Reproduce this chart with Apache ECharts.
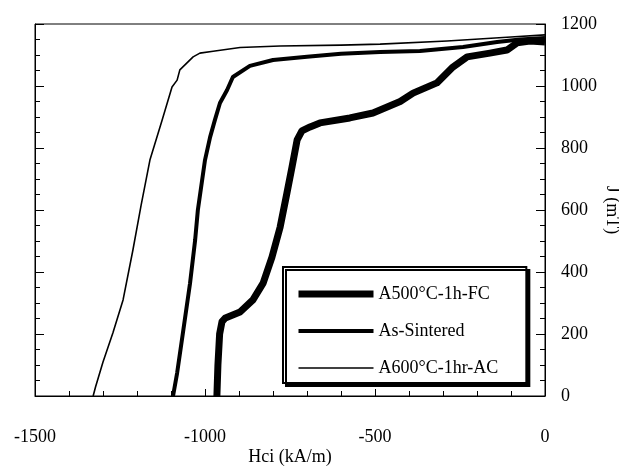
<!DOCTYPE html>
<html>
<head>
<meta charset="utf-8">
<script src="https://cdn.jsdelivr.net/npm/echarts@6/dist/echarts.min.js"></script>
<style>html,body{margin:0;padding:0;background:#fff}#c{width:619px;height:466px}</style>
</head>
<body>
<div id="c"></div>
<script>
const seriesNames = ['A500°C-1h-FC', 'As-Sintered', 'A600°C-1hr-AC'];
const xTitle = 'Hci (kA/m)';
const yTitle = 'J (mT)';
// [H (kA/m), J (mT)]
const a500 = [[-965,0],[-962,100],[-957,200],[-950,240],[-940,252],[-897,271],[-859,310],[-829,364],[-803,448],[-779,545],[-759,655],[-744,739],[-729,826],[-715,855],[-691,868],[-662,881],[-574,897],[-506,913],[-426,950],[-388,977],[-318,1010],[-271,1061],[-229,1094],[-162,1106],[-112,1116],[-82,1139],[-44,1145],[0,1142]];
const asSintered = [[-1094,0],[-1082,74],[-1065,203],[-1044,364],[-1029,503],[-1021,600],[-1000,761],[-985,835],[-971,890],[-956,945],[-935,987],[-918,1029],[-868,1065],[-800,1084],[-700,1094],[-600,1104],[-485,1110],[-368,1113],[-241,1126],[-141,1142],[-74,1150],[0,1155]];
const a600 = [[-1329,0],[-1322,29],[-1300,110],[-1271,203],[-1241,310],[-1212,471],[-1188,615],[-1162,761],[-1126,890],[-1097,997],[-1082,1019],[-1074,1052],[-1035,1094],[-1015,1106],[-976,1112],[-897,1124],[-779,1129],[-600,1132],[-485,1135],[-288,1145],[-100,1158],[0,1165]];
const xMin = -1500, xMax = 0, xStep = 500;
const yMin = 0, yMax = 1200, yStep = 200;
const widths = [7, 4, 1.6];

const font = 'Liberation Serif';
const chart = echarts.init(document.getElementById('c'));
const tickStyle = {color:'#000', width:1};
chart.setOption({
  animation:false,
  backgroundColor:'#fff',
  grid:{left:35, right:74, top:24, bottom:70, show:true, borderColor:'#000', borderWidth:1, backgroundColor:'transparent', containLabel:false, outerBoundsMode:'none'},
  legend:{
    data:seriesNames.map((n,i)=>({name:n, lineStyle:{width:widths[i], color:'#000'}})),
    orient:'vertical', left:283, top:267,
    itemWidth:75, itemHeight:14, itemGap:19,
    padding:[18,28,6,12],
    backgroundColor:'#fff', borderColor:'#000', borderWidth:2,
    shadowColor:'#000', shadowBlur:0, shadowOffsetX:3, shadowOffsetY:3,
    itemStyle:{opacity:0},
    textStyle:{fontFamily:font, fontSize:18, color:'#000'}
  },
  xAxis:{
    type:'value', min:xMin, max:xMax, interval:xStep,
    name:xTitle, nameLocation:'middle', nameGap:52, nameMoveOverlap:false,
    nameTextStyle:{fontFamily:font, fontSize:18, color:'#000'},
    axisLine:{lineStyle:{color:'#000'}},
    axisTick:{inside:true, length:7, lineStyle:tickStyle},
    minorTick:{show:true, splitNumber:5, length:5, lineStyle:tickStyle},
    axisLabel:{margin:32, fontFamily:font, fontSize:18, color:'#000', formatter:v=>String(v)},
    splitLine:{show:false}
  },
  yAxis:[{
    type:'value', position:'right', min:yMin, max:yMax, interval:yStep,
    name:yTitle, nameLocation:'middle', nameRotate:-90, nameGap:58, nameMoveOverlap:false,
    nameTextStyle:{fontFamily:font, fontSize:18, color:'#000'},
    axisLine:{show:true, lineStyle:{color:'#000'}},
    axisTick:{show:true, inside:true, length:9, lineStyle:tickStyle},
    minorTick:{show:true, splitNumber:4, length:5, lineStyle:tickStyle},
    axisLabel:{margin:16, fontFamily:font, fontSize:18, color:'#000', formatter:v=>String(v)},
    splitLine:{show:false}
  },{
    type:'value', position:'left', min:yMin, max:yMax, interval:yStep,
    axisLine:{show:true, lineStyle:{color:'#000'}},
    axisTick:{show:true, inside:true, length:9, lineStyle:tickStyle},
    minorTick:{show:true, splitNumber:4, length:5, lineStyle:tickStyle},
    axisLabel:{show:false},
    splitLine:{show:false}
  }],
  series:[
    {name:seriesNames[0], type:'line', data:a500, showSymbol:false, symbol:'none', color:'#000', lineStyle:{color:'#000', width:widths[0], join:'round'}, itemStyle:{color:'#000'}},
    {name:seriesNames[1], type:'line', data:asSintered, showSymbol:false, symbol:'none', color:'#000', lineStyle:{color:'#000', width:widths[1], join:'round'}, itemStyle:{color:'#000'}},
    {name:seriesNames[2], type:'line', data:a600, showSymbol:false, symbol:'none', color:'#000', lineStyle:{color:'#000', width:widths[2], join:'round'}, itemStyle:{color:'#000'}}
  ]
});
</script>
</body>
</html>
